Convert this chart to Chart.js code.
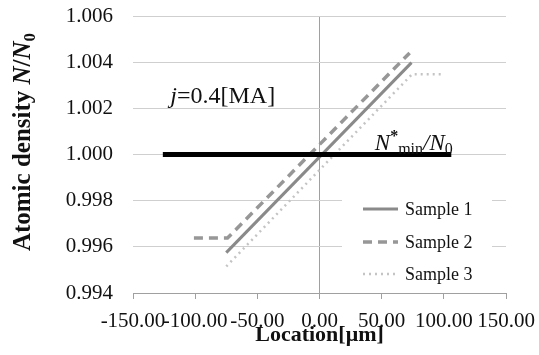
<!DOCTYPE html>
<html><head><meta charset="utf-8">
<script src="https://cdn.jsdelivr.net/npm/chart.js@4/dist/chart.umd.min.js"></script>
<style>html,body{margin:0;padding:0;background:#fff}</style>
</head><body>
<canvas id="c" width="539" height="355"></canvas>
<script>
// ---- data ----
const xTicks = [-150, -100, -50, 0, 50, 100, 150];
const yTicks = [0.994, 0.996, 0.998, 1.000, 1.002, 1.004, 1.006];
const seriesNames = ['Sample 1', 'Sample 2', 'Sample 3'];
const sample1X = [-75, 74];
const sample1Y = [0.99575, 1.00398];
const sample2X = [-101, -74, 72.5];
const sample2Y = [0.99638, 0.99638, 1.00440];
const sample3X = [-75, 74.5, 98.6];
const sample3Y = [0.99515, 1.00348, 1.00348];
const nminX = [-126, 106];
const nminY = [1.000, 1.000];
const xTitle = 'Location[μm]';

const pts = (xs, ys) => xs.map((x, i) => ({x: x, y: ys[i]}));
const SERIF = '"Liberation Serif", "DejaVu Serif", serif';

const styles = [
  {borderColor: '#8a8a8a', borderWidth: 3, borderDash: []},
  {borderColor: '#979797', borderWidth: 3.5, borderDash: [9, 6]},
  {borderColor: '#c4c4c4', borderWidth: 2.5, borderDash: [2, 4]}
];

function drawRich(ctx, parts, x, y, align) {
  let w = 0;
  parts.forEach(p => { ctx.font = p.font; p.w = ctx.measureText(p.t).width; w += p.w; });
  let cx = align === 'center' ? x - w / 2 : x;
  parts.forEach(p => { ctx.font = p.font; ctx.fillText(p.t, cx, y + (p.dy || 0)); cx += p.w; });
}

const textPlugin = {
  id: 'texts',
  afterDraw(chart) {
    const ctx = chart.ctx;
    const xs = chart.scales.x, ys = chart.scales.y;
    ctx.save();
    ctx.fillStyle = '#111';
    ctx.textAlign = 'left';
    ctx.textBaseline = 'alphabetic';
    drawRich(ctx, [
      {t: 'j', font: 'italic 24px ' + SERIF},
      {t: '=0.4[MA]', font: '24px ' + SERIF}
    ], xs.getPixelForValue(-120), ys.getPixelForValue(1.00223), 'left');
    drawRich(ctx, [
      {t: 'N', font: 'italic 23px ' + SERIF},
      {t: '*', font: 'bold 16px ' + SERIF, dy: -9},
      {t: 'min', font: '16px ' + SERIF, dy: 4},
      {t: '/', font: 'italic 23px ' + SERIF},
      {t: 'N', font: 'italic 23px ' + SERIF},
      {t: '0', font: '16px ' + SERIF, dy: 4}
    ], xs.getPixelForValue(44.5), ys.getPixelForValue(1.0002), 'left');
    ctx.save();
    ctx.translate(30, 142);
    ctx.rotate(-Math.PI / 2);
    drawRich(ctx, [
      {t: 'Atomic density ', font: 'bold 25px ' + SERIF},
      {t: 'N', font: 'bold italic 25px ' + SERIF},
      {t: '/', font: 'bold 25px ' + SERIF},
      {t: 'N', font: 'bold italic 25px ' + SERIF},
      {t: '0', font: 'bold 17px ' + SERIF, dy: 5}
    ], 0, 0, 'center');
    ctx.restore();
    ctx.fillStyle = '#fff';
    ctx.fillRect(342, 189, 150, 100);
    const rowY = [209, 242, 274];
    seriesNames.forEach((name, i) => {
      const s = styles[i];
      ctx.strokeStyle = s.borderColor;
      ctx.lineWidth = s.borderWidth;
      ctx.setLineDash(s.borderDash);
      ctx.beginPath();
      ctx.moveTo(363, rowY[i]);
      ctx.lineTo(398, rowY[i]);
      ctx.stroke();
      ctx.setLineDash([]);
      ctx.fillStyle = '#111';
      ctx.font = '18px ' + SERIF;
      ctx.textBaseline = 'middle';
      ctx.fillText(name, 405, rowY[i] + 1);
    });
    ctx.restore();
  }
};

new Chart(document.getElementById('c'), {
  type: 'scatter',
  data: {
    datasets: [
      {label: 'Nmin', data: pts(nminX, nminY), showLine: true, borderColor: '#000', borderWidth: 5, pointRadius: 0, order: 0, borderCapStyle: 'butt'},
      Object.assign({label: seriesNames[0], data: pts(sample1X, sample1Y), showLine: true, pointRadius: 0, order: 1}, styles[0]),
      Object.assign({label: seriesNames[1], data: pts(sample2X, sample2Y), showLine: true, pointRadius: 0, order: 2}, styles[1]),
      Object.assign({label: seriesNames[2], data: pts(sample3X, sample3Y), showLine: true, pointRadius: 0, order: 3}, styles[2])
    ]
  },
  options: {
    responsive: false,
    animation: false,
    devicePixelRatio: 1,
    layout: {padding: {left: 0, right: 33, top: 16, bottom: 0}},
    plugins: {legend: {display: false}, tooltip: {enabled: false}},
    scales: {
      x: {
        type: 'linear', min: -150, max: 150,
        afterBuildTicks: s => { s.ticks = xTicks.map(v => ({value: v})); },
        afterFit: s => { s.height = 62; },
        ticks: {callback: v => v.toFixed(2), font: {family: SERIF, size: 21, lineHeight: 1.9}, color: '#111', autoSkip: false, maxRotation: 0, padding: 3},
        grid: {
          color: c => (c.tick && c.tick.value === 0) ? '#a0a0a0' : 'rgba(0,0,0,0)',
          tickColor: '#a0a0a0', tickLength: 6, drawTicks: true, lineWidth: 1
        },
        border: {display: true, color: '#a0a0a0', width: 1},
        title: {display: true, text: xTitle, font: {family: SERIF, size: 22, weight: 'bold'}, color: '#111', padding: {top: 0, bottom: 6}}
      },
      y: {
        type: 'linear', min: 0.994, max: 1.006,
        afterBuildTicks: s => { s.ticks = yTicks.map(v => ({value: v})); },
        afterFit: s => { s.width = 133; },
        ticks: {callback: v => v.toFixed(3), font: {family: SERIF, size: 21}, color: '#111', padding: 0},
        grid: {color: '#cfcfcf', drawTicks: true, tickLength: 20, tickColor: 'rgba(0,0,0,0)', lineWidth: 1},
        border: {display: false}
      }
    }
  },
  plugins: [textPlugin]
});
</script>
</body></html>
